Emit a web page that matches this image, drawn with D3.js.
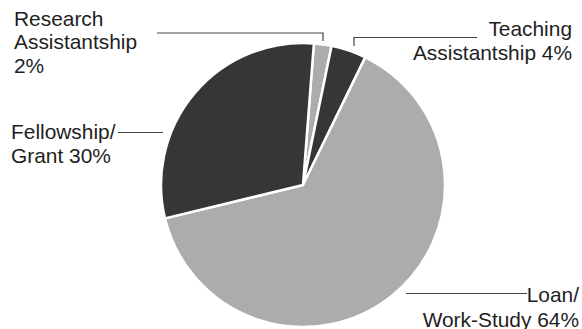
<!DOCTYPE html>
<html><head><meta charset="utf-8">
<script src="https://cdn.jsdelivr.net/npm/d3@7"></script>
<style>html,body{margin:0;padding:0;background:#fff;}svg{display:block;}</style>
</head><body>
<svg id="chart" width="582" height="329"></svg>
<script>
const categories = ["Research Assistantship", "Teaching Assistantship", "Loan/Work-Study", "Fellowship/Grant"];
const values = [2, 4, 64, 30];
const labelLines = [["Research", "Assistantship", "2%"], ["Teaching", "Assistantship 4%"], ["Loan/", "Work-Study 64%"], ["Fellowship/", "Grant 30%"]];
const colors = ["#acacac", "#363636", "#acacac", "#363636"];

const svg = d3.select("#chart");
const cx = 303, cy = 185, r = 142;
const startA = 4.4 * Math.PI / 180;
const pie = d3.pie().sort(null).startAngle(startA).endAngle(startA + 2 * Math.PI);
const arcs = pie(values);
const arc = d3.arc().innerRadius(0).outerRadius(r);
const g = svg.append("g").attr("transform", `translate(${cx},${cy})`);
g.selectAll("path").data(arcs).enter().append("path")
  .attr("d", arc).attr("fill", (d, i) => colors[i])
  .attr("stroke", "#fff").attr("stroke-width", 2.5).attr("stroke-linejoin", "round");

const font = "'Liberation Sans', Arial, sans-serif";
const fs = 20.9;
// label layout: [anchor, x, first baseline, line spacing, leader polyline]
const layout = [
  {anchor: "start", x: 14, y: 25.5, dy: 23.5, line: [[157, 33], [323, 33], [323, 41]]},
  {anchor: "end", x: 572, y: 36, dy: 24, line: [[477, 37.5], [354, 37.5], [354, 46]]},
  {anchor: "end", x: 579, y: 302, dy: 24.5, line: [[527, 293.5], [406, 293.5]]},
  {anchor: "start", x: 11, y: 138.5, dy: 24, line: [[118, 132.5], [163, 132.5]]}
];
const lineGen = d3.line();
layout.forEach((L, i) => {
  svg.append("path").attr("d", lineGen(L.line)).attr("fill", "none")
    .attr("stroke", "#444").attr("stroke-width", 1.2);
  const t = svg.append("text").attr("font-family", font).attr("font-size", fs)
    .attr("fill", "#1e1e1e").attr("text-anchor", L.anchor);
  labelLines[i].forEach((s, j) => {
    t.append("tspan").attr("x", L.x).attr("y", L.y + j * L.dy).text(s);
  });
});
</script>
</body></html>
